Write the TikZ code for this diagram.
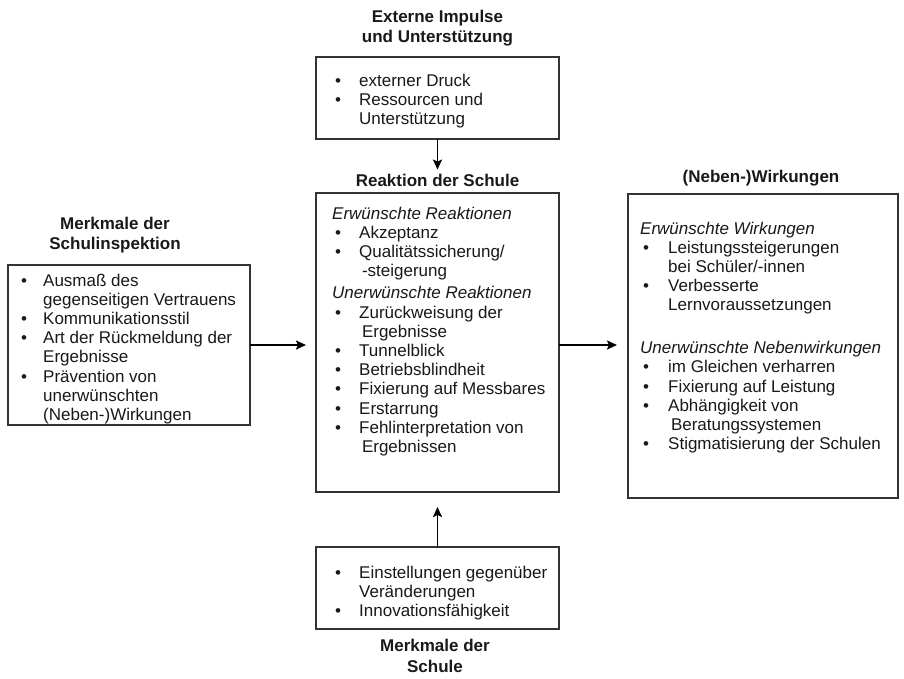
\documentclass[tikz,border=0pt]{standalone}
\usepackage{fontspec}
\setmainfont{Liberation Sans}
\usetikzlibrary{arrows.meta,calc}

% bullet lists with a fixed hanging indent
\newlength\bulw
\newcommand{\bitem}[1]{\makebox[\bulw][l]{\textbullet}#1}
\newcommand{\bcont}[1]{\hspace*{\bulw}#1}
\newcommand{\blist}[3]{\parbox[t]{#1}{\raggedright\setlength\bulw{#2}\fontsize{17}{19.2}\selectfont #3}}

\tikzset{
  box/.style={draw=black!80, line width=1.1pt, fill=none, inner sep=0pt, outer sep=0pt, anchor=north west},
  listtxt/.style={anchor=base west, inner sep=0pt, text=black!90},
  heading/.style={font=\bfseries\fontsize{17}{20.5}\selectfont, align=center, inner sep=0pt, text=black!90},
  flow/.style={line width=1.9pt, -{Stealth[length=10pt,width=9pt,inset=2pt]}},
}

\begin{document}
\begin{tikzpicture}[x=1pt, y=-1pt]
\fill[white] (0,0) rectangle (904,678);
\useasboundingbox (0,0) rectangle (904,678);

% --- boxes ---
\node[box, minimum width=243pt, minimum height=82pt] (tb) at (316,57) {};
\node[box, minimum width=243pt, minimum height=299pt] (cb) at (316,193) {};
\node[box, minimum width=242pt, minimum height=160pt] (lb) at (8,265) {};
\node[box, minimum width=270pt, minimum height=304pt] (rb) at (628,194) {};
\node[box, minimum width=243pt, minimum height=82pt] (bb) at (316,547) {};

% --- headings ---
\node[heading] (tt) at (437.5,28) {Externe Impulse\\und Unterstützung};
\node[heading] (rt) at (437.5,180) {Reaktion der Schule};
\node[heading] (wt) at (761,178) {(Neben-)Wirkungen};
\node[heading] (lt) at (115,235) {Merkmale der\\Schulinspektion};
\node[heading] (st) at (435,656) {Merkmale der\\Schule};

% --- box contents ---
\node[listtxt] (tbt) at (335,86) {\blist{220pt}{24pt}{%
  \bitem{externer Druck}\\
  \bitem{Ressourcen und}\\
  \bcont{Unterstützung}}};

\node[listtxt] (cbt) at (335,219) {\blist{222pt}{24pt}{%
  \hspace*{-3pt}\textit{Erwünschte Reaktionen}\\
  \bitem{Akzeptanz}\\
  \bitem{Qualitätssicherung/}\\
  \bcont{\,-steigerung}\\[3pt]
  \hspace*{-3pt}\textit{Unerwünschte Reaktionen}\\
  \bitem{Zurückweisung der}\\
  \bcont{\,Ergebnisse}\\
  \bitem{Tunnelblick}\\
  \bitem{Betriebsblindheit}\\
  \bitem{Fixierung auf Messbares}\\
  \bitem{Erstarrung}\\
  \bitem{Fehlinterpretation von}\\
  \bcont{\,Ergebnissen}}};

\node[listtxt] (lbt) at (21,286) {\blist{228pt}{22pt}{%
  \bitem{Ausmaß des}\\
  \bcont{gegenseitigen Vertrauens}\\
  \bitem{Kommunikationsstil}\\
  \bitem{Art der Rückmeldung der}\\
  \bcont{Ergebnisse}\\
  \bitem{Prävention von}\\
  \bcont{unerwünschten}\\
  \bcont{(Neben-)Wirkungen}}};

\node[listtxt] (rbt) at (643,234) {\blist{252pt}{25pt}{%
  \hspace*{-3pt}\textit{Erwünschte Wirkungen}\\
  \bitem{Leistungssteigerungen}\\
  \bcont{bei Schüler/-innen}\\
  \bitem{Verbesserte}\\
  \bcont{Lernvoraussetzungen}\\[23.7pt]
  \hspace*{-3pt}\textit{Unerwünschte Nebenwirkungen}\\
  \bitem{im Gleichen verharren}\\
  \bitem{Fixierung auf Leistung}\\
  \bitem{Abhängigkeit von}\\
  \bcont{\,Beratungssystemen}\\
  \bitem{Stigmatisierung der Schulen}}};

\node[listtxt] (bbt) at (335,578) {\blist{222pt}{24pt}{%
  \bitem{Einstellungen gegenüber}\\
  \bcont{Veränderungen}\\
  \bitem{Innovationsfähigkeit}}};

% --- connectors ---
\draw[flow] (tb.south) -- ($(rt.north)+(0,-4)$);
\draw[flow, shorten >=15pt] (bb.north) -- (cb.south);
\draw[flow, shorten >=10pt] (lb.east) -- (lb.east -| cb.west);
\draw[flow, shorten >=11pt] (lb.east -| cb.east) -- (lb.east -| rb.west);
\end{tikzpicture}
\end{document}
